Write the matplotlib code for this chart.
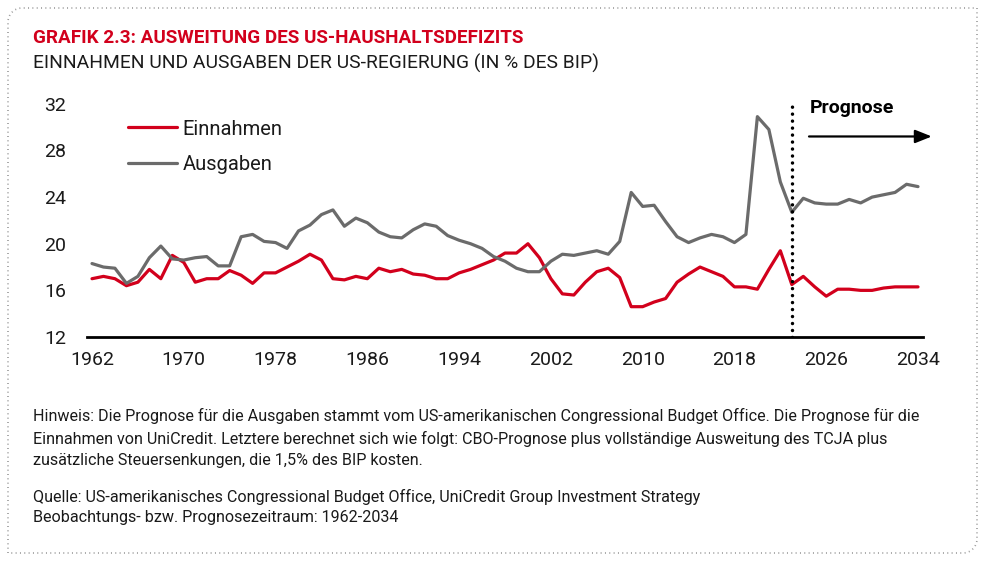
import numpy as np
import matplotlib.pyplot as plt
from matplotlib.lines import Line2D

# Einnahmen und Ausgaben der US-Regierung in % des BIP
years = list(range(1962, 2035))
einnahmen = [17.0, 17.2, 17.0, 16.4, 16.7, 17.8, 17.0, 19.0, 18.4, 16.7,
             17.0, 17.0, 17.7, 17.3, 16.6, 17.5, 17.5, 18.0, 18.5, 19.1,
             18.6, 17.0, 16.9, 17.2, 17.0, 17.9, 17.6, 17.8, 17.4, 17.3,
             17.0, 17.0, 17.5, 17.8, 18.2, 18.6, 19.2, 19.2, 20.0, 18.8,
             17.0, 15.7, 15.6, 16.7, 17.6, 17.9, 17.1, 14.6, 14.6, 15.0,
             15.3, 16.7, 17.4, 18.0, 17.6, 17.2, 16.3, 16.3, 16.1, 17.8,
             19.4, 16.5, 17.2, 16.3, 15.5, 16.1, 16.1, 16.0, 16.0, 16.2,
             16.3, 16.3, 16.3]
ausgaben = [18.3, 18.0, 17.9, 16.6, 17.2, 18.8, 19.8, 18.7, 18.6, 18.8,
            18.9, 18.1, 18.1, 20.6, 20.8, 20.2, 20.1, 19.6, 21.1, 21.6,
            22.5, 22.9, 21.5, 22.2, 21.8, 21.0, 20.6, 20.5, 21.2, 21.7,
            21.5, 20.7, 20.3, 20.0, 19.6, 18.9, 18.5, 17.9, 17.6, 17.6,
            18.5, 19.1, 19.0, 19.2, 19.4, 19.1, 20.2, 24.4, 23.2, 23.3,
            21.9, 20.6, 20.1, 20.5, 20.8, 20.6, 20.1, 20.8, 30.9, 29.8,
            25.3, 22.7, 23.9, 23.5, 23.4, 23.4, 23.8, 23.5, 24.0, 24.2,
            24.4, 25.1, 24.9]
prognose_start = 2023
xticks = [1962, 1970, 1978, 1986, 1994, 2002, 2010, 2018, 2026, 2034]
yticks = [12, 16, 20, 24, 28, 32]

red = '#d2001c'
grey = '#6b6b6b'
dark = '#1a1a1a'

plt.rcParams['font.family'] = ['Roboto', 'DejaVu Sans']

fig = plt.figure(figsize=(9.86, 5.66), dpi=100)

# dotted frame with rounded top-left and bottom-right corners
W, H = 986, 566
x0, x1, y0, y1, r = 8, 977, 8, 553, 14
t = np.linspace(0, np.pi / 2, 12)
px = [x0, x0] + list(x0 + r - r * np.cos(t)) + [x1, x1] + list(x1 - r + r * np.cos(t)) + [x0]
py = [y1, y0 + r] + list(y0 + r - r * np.sin(t)) + [y0, y1 - r] + list(y1 - r + r * np.sin(t)) + [y1]
fig.add_artist(Line2D(np.array(px) / W, 1 - np.array(py) / H, transform=fig.transFigure,
                      color='#999999', lw=1.2, ls=(0, (0.6, 2.0))))

fig.text(33 / W, 1 - 38 / H, 'GRAFIK 2.3: AUSWEITUNG DES US-HAUSHALTSDEFIZITS',
         color=red, fontsize=13.6, fontweight='semibold', va='center', ha='left')
fig.text(33 / W, 1 - 63 / H, 'EINNAHMEN UND AUSGABEN DER US-REGIERUNG (IN % DES BIP)',
         color=dark, fontsize=13.9, va='center', ha='left')

ax = fig.add_axes([87 / W, (566 - 337) / H, (923 - 87) / W, (337 - 98) / H])
ax.plot(years, einnahmen, color=red, lw=2.3, label='Einnahmen', solid_capstyle='round', solid_joinstyle='round')
ax.plot(years, ausgaben, color=grey, lw=2.3, label='Ausgaben', solid_capstyle='round', solid_joinstyle='round')
ax.set_xlim(1962 - 5 / 11.47, 2034 + 5 / 11.47)
ax.set_ylim(12, 32.5)
ax.set_xticks(xticks)
ax.set_yticks(yticks)
ax.tick_params(length=0, labelsize=14, colors=dark)
ax.tick_params(axis='y', pad=15)
ax.tick_params(axis='x', pad=10)
for s in ['top', 'right', 'left']:
    ax.spines[s].set_visible(False)
ax.spines['bottom'].set_linewidth(2)
ax.spines['bottom'].set_color('black')

ax.axvline(prognose_start, ymin=0, ymax=0.99, color='black', lw=2.5, ls=(0, (0.01, 2.0)),
           dash_capstyle='round')
ax.text(2024.6, 31.6, 'Prognose', fontsize=14, fontweight='bold', va='center', ha='left')
ax.annotate('', xy=(2035.2, 29.2), xytext=(2024.5, 29.2), annotation_clip=False,
            arrowprops=dict(arrowstyle='-|>,head_length=1.0,head_width=0.4', color='black', lw=1.6,
                            shrinkA=0, shrinkB=0))

leg = ax.legend(loc='upper left', bbox_to_anchor=(0.049, 0.91), frameon=False, fontsize=14.5,
                handlelength=2.45, handletextpad=0.25, labelspacing=0.8, borderpad=0, borderaxespad=0)
for txt in leg.get_texts():
    txt.set_color(dark)

notes = ('Hinweis: Die Prognose für die Ausgaben stammt vom US-amerikanischen Congressional Budget Office. '
         'Die Prognose für die\nEinnahmen von UniCredit. Letztere berechnet sich wie folgt: CBO-Prognose plus '
         'vollständige Ausweitung des TCJA plus\nzusätzliche Steuersenkungen, die 1,5% des BIP kosten.')
fig.text(33 / W, 1 - 408 / H, notes, fontsize=11.6, va='top', ha='left', color=dark, linespacing=1.5)
fig.text(33 / W, 1 - 489 / H, 'Quelle: US-amerikanisches Congressional Budget Office, UniCredit Group Investment Strategy\n'
         'Beobachtungs- bzw. Prognosezeitraum: 1962-2034', fontsize=11.6, va='top', ha='left',
         color=dark, linespacing=1.45)

fig.savefig('out.png', dpi=100)
